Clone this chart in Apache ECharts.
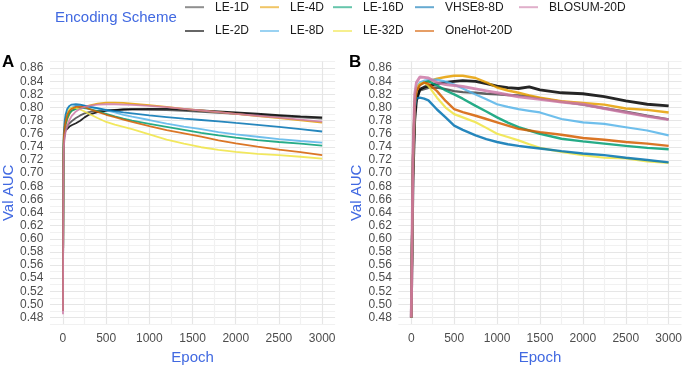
<!DOCTYPE html>
<html>
<head>
<meta charset="utf-8">
<script src="https://cdn.jsdelivr.net/npm/echarts@6/dist/echarts.min.js"></script>
<style>html,body{margin:0;padding:0;background:#fff}#c{width:685px;height:370px}</style>
</head>
<body>
<div id="c"></div>
<script>
// ---------- data ----------
const seriesNames = ['LE-1D','LE-2D','LE-4D','LE-8D','LE-16D','LE-32D','VHSE8-8D','OneHot-20D','BLOSUM-20D'];
const seriesColors = ['#454545','#000000','#E69F00','#56B4E9','#009E73','#F0E442','#0072B2','#D55E00','#CC79A7'];
const yTickLabels = ['0.48','0.50','0.52','0.54','0.56','0.58','0.60','0.62','0.64','0.66','0.68','0.70','0.72','0.74','0.76','0.78','0.80','0.82','0.84','0.86'];
const xTickLabels = [0, 500, 1000, 1500, 2000, 2500, 3000];
const xGridValues = [0, 250, 500, 750, 1000, 1250, 1500, 1750, 2000, 2250, 2500, 2750, 3000];

// Panel A
const epochsA = [0, 5, 10, 20, 30, 50, 75, 100, 150, 200, 250, 300, 400, 500, 600, 700, 800, 1000, 1200, 1400, 1600, 1800, 2000, 2250, 2500, 2750, 3000];
const A_LE1D   = [0.49, 0.71, 0.75, 0.762, 0.767, 0.772, 0.776, 0.779, 0.784, 0.788, 0.791, 0.793, 0.795, 0.796, 0.7965, 0.797, 0.797, 0.7965, 0.796, 0.795, 0.7935, 0.792, 0.7905, 0.7885, 0.787, 0.785, 0.783];
const A_LE2D   = [0.49, 0.70, 0.745, 0.76, 0.765, 0.768, 0.771, 0.773, 0.776, 0.78, 0.785, 0.789, 0.793, 0.795, 0.796, 0.797, 0.7975, 0.798, 0.798, 0.797, 0.7955, 0.794, 0.7925, 0.7905, 0.7885, 0.7865, 0.785];
const A_LE4D   = [0.49, 0.72, 0.75, 0.765, 0.772, 0.782, 0.79, 0.795, 0.799, 0.80, 0.8015, 0.803, 0.806, 0.8075, 0.8075, 0.807, 0.806, 0.8035, 0.801, 0.798, 0.7955, 0.793, 0.7905, 0.787, 0.784, 0.7805, 0.777];
const A_LE8D   = [0.49, 0.72, 0.755, 0.77, 0.778, 0.789, 0.796, 0.80, 0.8025, 0.803, 0.8025, 0.801, 0.7985, 0.7955, 0.7925, 0.789, 0.786, 0.781, 0.7755, 0.771, 0.767, 0.7625, 0.759, 0.7555, 0.752, 0.749, 0.7465];
const A_LE16D  = [0.49, 0.72, 0.752, 0.766, 0.774, 0.784, 0.791, 0.795, 0.798, 0.799, 0.799, 0.798, 0.7945, 0.7905, 0.7865, 0.783, 0.780, 0.775, 0.7705, 0.766, 0.7615, 0.7575, 0.754, 0.7505, 0.7475, 0.745, 0.742];
const A_LE32D  = [0.49, 0.73, 0.76, 0.775, 0.783, 0.792, 0.798, 0.80, 0.7995, 0.797, 0.794, 0.7905, 0.784, 0.778, 0.774, 0.7705, 0.767, 0.759, 0.751, 0.745, 0.7395, 0.7355, 0.7325, 0.7295, 0.7275, 0.725, 0.722];
const A_VHSE   = [0.49, 0.73, 0.762, 0.78, 0.789, 0.798, 0.8025, 0.8045, 0.805, 0.8045, 0.803, 0.8015, 0.799, 0.7965, 0.7945, 0.7925, 0.791, 0.788, 0.7855, 0.783, 0.781, 0.779, 0.7765, 0.7735, 0.7705, 0.767, 0.7635];
const A_OneHot = [0.49, 0.72, 0.755, 0.77, 0.778, 0.789, 0.795, 0.798, 0.801, 0.8015, 0.8005, 0.798, 0.7935, 0.789, 0.7855, 0.7815, 0.778, 0.7715, 0.7655, 0.7605, 0.7555, 0.750, 0.7455, 0.7405, 0.736, 0.732, 0.7275];
const A_BLOSUM = [0.485, 0.70, 0.74, 0.755, 0.762, 0.772, 0.781, 0.787, 0.794, 0.798, 0.801, 0.8025, 0.8045, 0.805, 0.805, 0.8045, 0.804, 0.8025, 0.8005, 0.798, 0.7955, 0.793, 0.7905, 0.7875, 0.7845, 0.7815, 0.7785];

// Panel B
const epochsB = [0, 20, 40, 60, 100, 150, 200, 300, 400, 500, 600, 750, 875, 1000, 1125, 1250, 1375, 1500, 1750, 2000, 2250, 2500, 2750, 3000];
const B_LE1D   = [0.48, 0.70, 0.79, 0.815, 0.826, 0.828, 0.83, 0.8305, 0.828, 0.825, 0.8235, 0.8225, 0.821, 0.82, 0.819, 0.8185, 0.817, 0.814, 0.809, 0.8045, 0.799, 0.7935, 0.7875, 0.782];
const B_LE2D   = [0.48, 0.69, 0.78, 0.81, 0.828, 0.831, 0.833, 0.8365, 0.8385, 0.84, 0.841, 0.84, 0.8365, 0.8325, 0.8305, 0.829, 0.8315, 0.827, 0.8225, 0.821, 0.8165, 0.81, 0.805, 0.8025];
const B_LE4D   = [0.48, 0.71, 0.80, 0.825, 0.836, 0.838, 0.84, 0.844, 0.8465, 0.8485, 0.8485, 0.845, 0.8385, 0.8305, 0.826, 0.8225, 0.8185, 0.815, 0.8095, 0.807, 0.8045, 0.7985, 0.7965, 0.7925];
const B_LE8D   = [0.48, 0.72, 0.81, 0.83, 0.838, 0.841, 0.842, 0.8425, 0.8395, 0.835, 0.829, 0.82, 0.8125, 0.805, 0.801, 0.7975, 0.795, 0.7925, 0.7825, 0.7775, 0.775, 0.77, 0.765, 0.7575];
const B_LE16D  = [0.48, 0.72, 0.81, 0.828, 0.835, 0.838, 0.84, 0.834, 0.826, 0.82, 0.8135, 0.8025, 0.794, 0.785, 0.777, 0.77, 0.765, 0.76, 0.7525, 0.7485, 0.745, 0.7415, 0.7385, 0.7365];
const B_LE32D  = [0.48, 0.73, 0.815, 0.83, 0.836, 0.838, 0.833, 0.815, 0.80, 0.79, 0.785, 0.7775, 0.769, 0.76, 0.755, 0.75, 0.744, 0.7385, 0.7325, 0.7275, 0.7235, 0.7225, 0.718, 0.7155];
const B_VHSE   = [0.48, 0.72, 0.80, 0.814, 0.815, 0.8135, 0.811, 0.797, 0.785, 0.7725, 0.766, 0.7575, 0.752, 0.7475, 0.744, 0.7415, 0.7395, 0.7375, 0.7335, 0.73, 0.7275, 0.7235, 0.72, 0.7165];
const B_OneHot = [0.48, 0.72, 0.805, 0.825, 0.834, 0.838, 0.836, 0.825, 0.81, 0.7975, 0.793, 0.7875, 0.7825, 0.7775, 0.7725, 0.7675, 0.765, 0.7625, 0.7585, 0.7535, 0.751, 0.7475, 0.745, 0.7415];
const B_BLOSUM = [0.48, 0.73, 0.82, 0.838, 0.8465, 0.846, 0.845, 0.838, 0.835, 0.8335, 0.832, 0.8285, 0.8255, 0.8225, 0.8195, 0.8165, 0.8145, 0.8125, 0.8085, 0.805, 0.7985, 0.7925, 0.7865, 0.7815];

const panelA = [A_LE1D, A_LE2D, A_LE4D, A_LE8D, A_LE16D, A_LE32D, A_VHSE, A_OneHot, A_BLOSUM];
const panelB = [B_LE1D, B_LE2D, B_LE4D, B_LE8D, B_LE16D, B_LE32D, B_VHSE, B_OneHot, B_BLOSUM];

// ---------- layout / style ----------
const FONT = 'Liberation Sans, Arial, sans-serif';
const BLUE = '#4169E1';
const LABEL = '#4d4d4d';
const MAJOR = '#e6e6e6', MINOR = '#f1f1f1';
const gridTop = 61.6, gridH = 266.8;
const grids = [
  {left: 49.3, top: gridTop, width: 285.8, height: gridH},
  {left: 398.4, top: gridTop, width: 284.8, height: gridH}
];
const widthsA = [1.8, 1.8, 1.8, 1.8, 1.8, 1.8, 1.8, 1.8, 1.8];
const widthsB = [2.4, 2.8, 2.4, 2.2, 2.4, 2.2, 2.4, 2.4, 2.9];
const legendCols = [185, 185, 260, 260, 333, 333, 415, 415, 519];
const legendRows = [0, 1, 0, 1, 0, 1, 0, 1, 0];
const rowTop = [1.2, 25];

function xAxis(i) {
  return {
    type: 'value', gridIndex: i, min: -150, max: 3150,
    name: 'Epoch', nameLocation: 'middle', nameGap: 22,
    nameTextStyle: {color: BLUE, fontSize: 15, fontFamily: FONT},
    axisLine: {show: false},
    axisTick: {show: false, customValues: xGridValues},
    axisLabel: {customValues: xTickLabels, color: LABEL, fontSize: 12, fontFamily: FONT, margin: 9,
                formatter: v => String(Math.round(v))},
    splitLine: {show: true, lineStyle: {color: [MAJOR, MINOR], width: 1.2}}
  };
}
function yAxis(i) {
  return {
    type: 'value', gridIndex: i, min: 0.47, max: 0.87, interval: 0.01,
    name: 'Val AUC', nameLocation: 'middle', nameGap: 34,
    nameTextStyle: {color: BLUE, fontSize: 15, fontFamily: FONT},
    axisLine: {show: false}, axisTick: {show: false},
    axisLabel: {
      color: LABEL, fontSize: 12, fontFamily: FONT, margin: 6.6,
      formatter: v => {
        const s = (Math.round(v * 100) / 100).toFixed(2);
        return yTickLabels.indexOf(s) >= 0 ? s : '';
      }
    },
    splitLine: {show: true, lineStyle: {color: [MINOR, MAJOR], width: 1.2}}
  };
}

const series = [];
[[panelA, epochsA, widthsA], [panelB, epochsB, widthsB]].forEach(([panel, ep, ws], gi) => {
  panel.forEach((vals, si) => {
    series.push({
      type: 'line', name: seriesNames[si], xAxisIndex: gi, yAxisIndex: gi,
      data: ep.map((e, k) => [e, vals[k]]),
      showSymbol: false, symbol: 'none', smooth: false,
      lineStyle: {color: seriesColors[si], width: ws[si], opacity: 0.85},
      itemStyle: {color: seriesColors[si]},
      z: 2 + si
    });
  });
});

const legends = seriesNames.map((n, i) => ({
  data: [n], left: legendCols[i], top: rowTop[legendRows[i]],
  padding: 0, icon: 'rect', itemWidth: 19, itemHeight: 2,
  itemStyle: {opacity: 0.6},
  textStyle: {color: '#1a1a1a', fontSize: 12, fontFamily: FONT, padding: [0, 0, 0, 6]},
  selectedMode: false
}));

const chart = echarts.init(document.getElementById('c'), null, {renderer: 'canvas'});
chart.setOption({
  animation: false,
  backgroundColor: '#ffffff',
  grid: grids,
  xAxis: [xAxis(0), xAxis(1)],
  yAxis: [yAxis(0), yAxis(1)],
  legend: legends,
  title: [
    {text: 'Encoding Scheme', left: 55, top: 10.5, padding: 0,
     textStyle: {color: BLUE, fontSize: 15, fontWeight: 'normal', fontFamily: FONT}},
    {text: 'A', left: 2, top: 54, padding: 0,
     textStyle: {color: '#000', fontSize: 17, fontWeight: 'bold', fontFamily: FONT}},
    {text: 'B', left: 349, top: 54, padding: 0,
     textStyle: {color: '#000', fontSize: 17, fontWeight: 'bold', fontFamily: FONT}}
  ],
  series: series
});
</script>
</body>
</html>
